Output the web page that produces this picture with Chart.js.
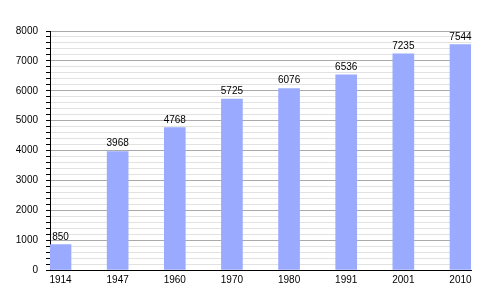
<!DOCTYPE html>
<html>
<head>
<meta charset="utf-8">
<script src="https://cdn.jsdelivr.net/npm/chart.js@4/dist/chart.umd.min.js"></script>
<style>
  html, body { margin: 0; padding: 0; background: #fff; }
  #wrap { width: 500px; height: 300px; }
</style>
</head>
<body>
<div id="wrap"><canvas id="popChart"></canvas></div>
<script>
const years = ['1914', '1947', '1960', '1970', '1980', '1991', '2001', '2010'];
const population = [850, 3968, 4768, 5725, 6076, 6536, 7235, 7544];
const yMax = 8000;

Chart.defaults.font.family = '"Liberation Sans", Arial, sans-serif';
Chart.defaults.font.size = 10;
Chart.defaults.color = '#000';

// draws the value above each bar
const valueLabels = {
    id: 'valueLabels',
    afterDatasetsDraw(chart) {
        const c = chart.ctx;
        const meta = chart.getDatasetMeta(0);
        c.save();
        c.font = '10px "Liberation Sans", Arial, sans-serif';
        c.fillStyle = '#000';
        c.textAlign = 'center';
        c.textBaseline = 'alphabetic';
        meta.data.forEach((bar, i) => {
            c.fillText(String(population[i]), bar.x, bar.y - 5);
        });
        c.restore();
    }
};

const ctx = document.getElementById('popChart').getContext('2d');
const popChart = new Chart(ctx, {
    type: 'bar',
    data: {
        datasets: [{
            data: population.map((v, i) => ({ x: i, y: v })),
            backgroundColor: '#99aaff',
            borderWidth: 0,
            barThickness: 21
        }]
    },
    options: {
        responsive: true,
        maintainAspectRatio: false,
        animation: false,
        layout: { padding: { left: 0, right: 29, top: 31, bottom: 0 } },
        plugins: {
            legend: { display: false },
            tooltip: { enabled: false }
        },
        scales: {
            x: {
                type: 'linear',
                offset: false,
                min: -0.184,
                max: 7.184,
                afterBuildTicks: (scale) => {
                    scale.ticks = years.map((y, i) => ({ value: i }));
                },
                ticks: {
                    padding: 4,
                    maxRotation: 0,
                    autoSkip: false,
                    callback: (v) => years[v]
                },
                grid: { display: false, drawTicks: false },
                border: { color: '#000', width: 1 },
                afterFit: (scale) => { scale.height = 30; }
            },
            y: {
                min: 0,
                max: yMax,
                ticks: {
                    stepSize: 200,
                    padding: 8,
                    autoSkip: false,
                    callback: (v) => (v % 1000 === 0 ? String(v) : '')
                },
                grid: {
                    color: (c) => (c.tick && c.tick.value % 1000 === 0 ? '#aaaaaa' : '#e2e2e2'),
                    tickColor: '#000',
                    tickLength: 4
                },
                border: { color: '#000', width: 1 },
                afterFit: (scale) => { scale.width = 50; }
            }
        }
    },
    plugins: [valueLabels]
});
</script>
</body>
</html>
